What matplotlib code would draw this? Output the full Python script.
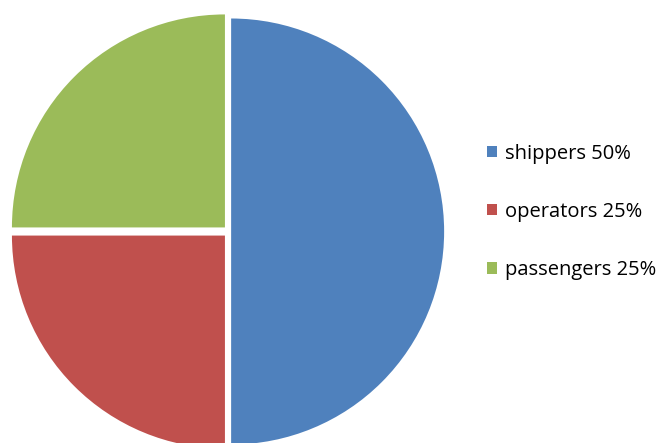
import matplotlib.pyplot as plt
from matplotlib.patches import Patch

labels = ['shippers', 'operators', 'passengers']
shares = [50, 25, 25]
colors = ['#4F81BD', '#C0504D', '#9BBB59']
explode = [0.01, 0.027, 0.027]

W, H = 662, 443
fig = plt.figure(figsize=(W / 100, H / 100), dpi=100)

# pie centre and radius in pixels
cx, cy, R = 229, 443 - 231.5, 213
lim = 1.05
side = 2 * lim * R
ax = fig.add_axes([(cx - side / 2) / W, (cy - side / 2) / H, side / W, side / H])
ax.pie(shares, colors=colors, explode=explode, startangle=90, counterclock=False,
       radius=1, wedgeprops={'linewidth': 0})
ax.set_xlim(-lim, lim)
ax.set_ylim(-lim, lim)
ax.set_aspect('equal')
ax.axis('off')

handles = [Patch(facecolor=c, edgecolor='none') for c in colors]
texts = [f'{l} {s}%' for l, s in zip(labels, shares)]
fig.legend(handles, texts, loc='center left', bbox_to_anchor=(469 / W, 1 - 212 / H),
           frameon=False, prop={'family': 'Open Sans', 'size': 14.5},
           handlelength=0.48, handleheight=0.48, handletextpad=0.4, labelspacing=1.9)

fig.savefig('out.png', dpi=100)
